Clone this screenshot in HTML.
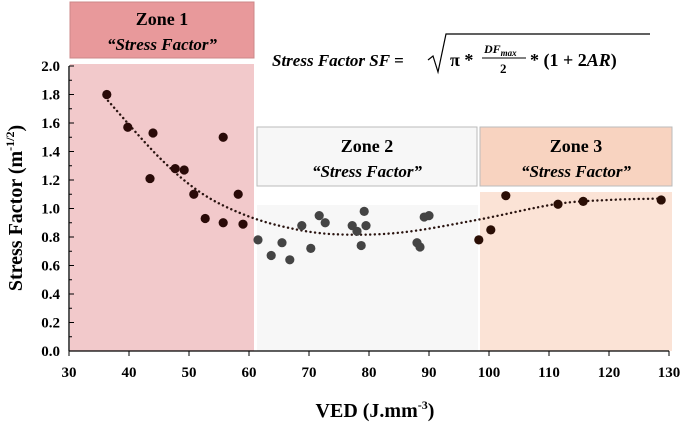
<!DOCTYPE html>
<html><head><meta charset="utf-8"><style>
body{margin:0;background:#fff}
svg text{font-family:"Liberation Serif",serif;font-weight:bold}
</style></head><body>
<svg width="685" height="423" viewBox="0 0 685 423">
<rect x="70" y="64" width="184" height="287" fill="#f2c9cb"/>
<rect x="70" y="2" width="184" height="56" fill="#e8999b" stroke="#c88"/>
<text x="162" y="25" font-size="18" text-anchor="middle">Zone 1</text>
<text x="162" y="50" font-size="17" font-style="italic" text-anchor="middle">“Stress Factor”</text>
<rect x="257" y="205" width="221" height="146" fill="#f7f7f7"/>
<rect x="257" y="127" width="220" height="59" fill="#f7f7f7" stroke="#bbb"/>
<text x="367" y="152" font-size="18" text-anchor="middle">Zone 2</text>
<text x="367" y="177" font-size="17" font-style="italic" text-anchor="middle">“Stress Factor”</text>
<rect x="480" y="192" width="192" height="159" fill="#fbe3d6"/>
<rect x="480" y="127" width="192" height="59" fill="#f8d3c0" stroke="#bbb"/>
<text x="576" y="152" font-size="18" text-anchor="middle">Zone 3</text>
<text x="576" y="177" font-size="17" font-style="italic" text-anchor="middle">“Stress Factor”</text>
<g>
<text x="272" y="66" font-size="17" font-style="italic">Stress Factor SF =</text>
<path d="M428 60 L433 56 L438 72 L446 34 L650 34" fill="none" stroke="#000" stroke-width="1.2"/>
<text x="450" y="66" font-size="18">π *</text>
<text x="484" y="53" font-size="12" font-style="italic">DF<tspan font-size="9" dy="3">max</tspan></text>
<line x1="482" y1="58" x2="526" y2="58" stroke="#000"/>
<text x="500" y="73" font-size="13">2</text>
<text x="530" y="66" font-size="18">* (1 + 2<tspan font-style="italic">AR</tspan>)</text>
</g>
<g id="axes"></g>
<g id="marks"></g>
<text x="375" y="417" font-size="20" text-anchor="middle">VED (J.mm<tspan font-size="12" dy="-8">-3</tspan><tspan dy="8">)</tspan></text>
<text transform="translate(22,208) rotate(-90)" font-size="20" text-anchor="middle">Stress Factor (m<tspan font-size="12" dy="-8">-1/2</tspan><tspan dy="8">)</tspan></text>
</svg>
<script>
const xVals=[36.3,39.8,44.0,43.5,47.7,49.2,50.8,52.7,55.7,58.2,55.7,59.0,61.5,63.7,65.5,66.8,68.8,70.3,71.7,72.7,77.2,78.0,78.7,79.2,79.5,88.0,88.5,89.2,90.0,98.3,100.3,102.8,111.5,115.7,128.7];
const yVals=[1.80,1.57,1.53,1.21,1.28,1.27,1.10,0.93,1.50,1.10,0.90,0.89,0.78,0.67,0.76,0.64,0.88,0.72,0.95,0.90,0.88,0.84,0.74,0.98,0.88,0.76,0.73,0.94,0.95,0.78,0.85,1.09,1.03,1.05,1.06];
const trendX=[36,45,52,59,66,74,85,98,111,120,129];
const trendY=[1.78,1.36,1.11,0.96,0.87,0.82,0.83,0.92,1.03,1.06,1.07];
const xTicks=[30,40,50,60,70,80,90,100,110,120,130];
const yTicks=[0,0.2,0.4,0.6,0.8,1.0,1.2,1.4,1.6,1.8,2.0];
const NS="http://www.w3.org/2000/svg";
const sx=v=>69+(v-30)*6.0, sy=v=>351-v*142.5;
const axes=document.getElementById('axes'), marks=document.getElementById('marks');
function mk(tag,at,parent){const e=document.createElementNS(NS,tag);for(const k in at)e.setAttribute(k,at[k]);parent.appendChild(e);return e;}
let e=mk('line',{x1:69,y1:sy(2),x2:69,y2:351,stroke:'#000','stroke-width':1.3},axes);


e=mk('line',{x1:69,y1:351,x2:sx(130),y2:351,stroke:'#000','stroke-width':1.3},axes);


yTicks.forEach((t,i)=>{mk('line',{x1:69,x2:74,y1:sy(t),y2:sy(t),stroke:'#000'},axes);
 if(i<yTicks.length-1)mk('line',{x1:69,x2:72,y1:sy(t+0.1),y2:sy(t+0.1),stroke:'#000'},axes);
 const tx=mk('text',{x:60,y:sy(t)+5,'font-size':15,'text-anchor':'end'},axes);tx.textContent=t.toFixed(1);
 
 });
xTicks.forEach(t=>{mk('line',{x1:sx(t),x2:sx(t),y1:351,y2:356,stroke:'#000'},axes);
 const tx=mk('text',{x:sx(t),y:377,'font-size':15,'text-anchor':'middle'},axes);tx.textContent=t;
 
 });
let pts=trendX.map((x,i)=>[sx(x),sy(trendY[i])]);let d='M'+pts[0];
for(let i=0;i<pts.length-1;i++){const p0=pts[i-1]||pts[i],p1=pts[i],p2=pts[i+1],p3=pts[i+2]||p2;
 d+=` C${p1[0]+(p2[0]-p0[0])/6},${p1[1]+(p2[1]-p0[1])/6} ${p2[0]-(p3[0]-p1[0])/6},${p2[1]-(p3[1]-p1[1])/6} ${p2[0]},${p2[1]}`;}
e=mk('path',{d:d,fill:'none',stroke:'#2a1410','stroke-width':2.4,'stroke-dasharray':'0.1 4.5','stroke-linecap':'round'},marks);


xVals.forEach((x,i)=>{const c=x<60.5?'#2a0a08':(x<98?'#444':'#2a0e05');
 const p=mk('circle',{cx:sx(x),cy:sy(yVals[i]),r:4.6,fill:c},marks);
 
 });
</script>
</body></html>
